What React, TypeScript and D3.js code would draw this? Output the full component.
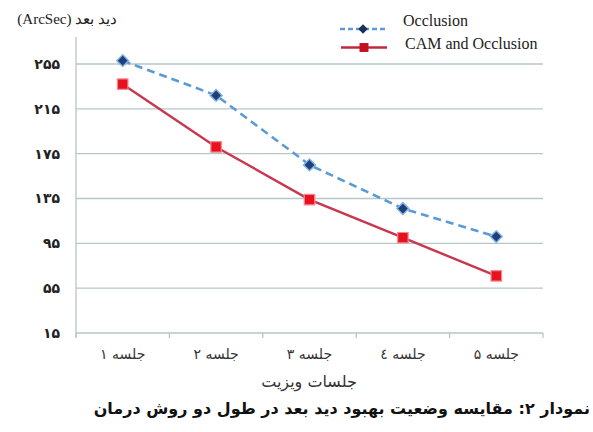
import React, { useRef, useEffect } from "react";
import * as d3 from "d3";

const categories = ["جلسه ۱", "جلسه ۲", "جلسه ۳", "جلسه ٤", "جلسه ۵"];
const occlusion = [258, 227, 165, 126, 101];
const camOcclusion = [237, 181, 134, 100, 66];
const yTicks = [15, 55, 95, 135, 175, 215, 255];
const persianDigits = "۰۱۲۳۴۵۶۷۸۹";
const toPersian = (n: number) => String(n).replace(/\d/g, (d) => persianDigits[+d]);

const W = 593;
const H = 432;
const left = 76;
const right = 543;
const top = 37;
const bottom = 333;

const serif = "Liberation Serif, DejaVu Serif, serif";
const faSans = "DejaVu Sans, sans-serif";

const App: React.FC = () => {
  const svgRef = useRef<SVGSVGElement>(null);

  useEffect(() => {
    if (!svgRef.current) return;
    const svg = d3.select(svgRef.current);
    svg.selectAll("*").remove();

    const x = d3.scaleBand<string>().domain(categories).range([left, right]);
    const y = d3.scaleLinear().domain([15, 255]).range([bottom, 64]);
    const gridColor = "#b7c6c6";

    svg.append("rect").attr("width", W).attr("height", H).attr("fill", "#fff");

    // gridlines
    svg
      .append("g")
      .selectAll("line")
      .data(yTicks)
      .join("line")
      .attr("x1", left)
      .attr("x2", right)
      .attr("y1", (d) => y(d))
      .attr("y2", (d) => y(d))
      .attr("stroke", gridColor)
      .attr("stroke-width", 1.3);

    // y axis line
    svg
      .append("line")
      .attr("x1", left)
      .attr("x2", left)
      .attr("y1", top)
      .attr("y2", bottom + 4)
      .attr("stroke", gridColor)
      .attr("stroke-width", 1.3);

    // x axis ticks
    const tickXs = categories.map((c) => x(c)!).concat([right]);
    svg
      .append("g")
      .selectAll("line")
      .data(tickXs)
      .join("line")
      .attr("x1", (d) => d)
      .attr("x2", (d) => d)
      .attr("y1", bottom)
      .attr("y2", bottom + 5)
      .attr("stroke", gridColor)
      .attr("stroke-width", 1.3);

    // y tick labels
    svg
      .append("g")
      .selectAll("text")
      .data(yTicks)
      .join("text")
      .attr("x", 60)
      .attr("y", (d) => y(d))
      .attr("dy", "0.35em")
      .attr("text-anchor", "end")
      .style("font-family", faSans)
      .attr("font-weight", "bold")
      .attr("font-size", 14)
      .attr("fill", "#222")
      .text((d) => toPersian(d));

    // x tick labels
    svg
      .append("g")
      .selectAll("text")
      .data(categories)
      .join("text")
      .attr("x", (d) => x(d)! + x.bandwidth() / 2)
      .attr("y", 359)
      .attr("text-anchor", "middle")
      .style("font-family", faSans)
      .attr("font-size", 14)
      .attr("fill", "#333")
      .text((d) => d);

    // axis titles
    svg
      .append("text")
      .attr("x", 309)
      .attr("y", 387)
      .attr("text-anchor", "middle")
      .style("font-family", faSans)
      .attr("font-size", 16)
      .attr("fill", "#333")
      .text("جلسات ویزیت");

    svg
      .append("text")
      .attr("x", 117)
      .attr("y", 24)
      .attr("direction", "rtl")
      .attr("text-anchor", "start")
      .style("font-family", serif)
      .attr("font-size", 15)
      .attr("fill", "#222")
      .text("دید بعد (ArcSec)");

    // caption
    svg
      .append("text")
      .attr("x", 590)
      .attr("y", 414)
      .attr("direction", "rtl")
      .attr("text-anchor", "start")
      .style("font-family", faSans)
      .attr("font-weight", "bold")
      .attr("font-size", 16)
      .attr("fill", "#111")
      .text("نمودار ۲: مقایسه وضعیت بهبود دید بعد در طول دو روش درمان");

    const cx = (i: number) => x(categories[i])! + x.bandwidth() / 2;
    const line = d3
      .line<number>()
      .x((_, i) => cx(i))
      .y((d) => y(d));

    const blue = "#5b9bd5";
    const navy = "#1f3f78";
    const crimson = "#c8374f";
    const red = "#e8121e";

    svg
      .append("path")
      .datum(occlusion)
      .attr("fill", "none")
      .attr("stroke", blue)
      .attr("stroke-width", 2.6)
      .attr("stroke-dasharray", "8,5")
      .attr("d", line);

    svg
      .append("path")
      .datum(camOcclusion)
      .attr("fill", "none")
      .attr("stroke", crimson)
      .attr("stroke-width", 2.4)
      .attr("d", line);

    const diamond = d3.symbol().type(d3.symbolSquare).size(70)();
    const square = d3.symbol().type(d3.symbolSquare).size(110)();

    svg
      .append("g")
      .selectAll("path")
      .data(occlusion)
      .join("path")
      .attr("d", diamond)
      .attr("transform", (d, i) => `translate(${cx(i)},${y(d)}) rotate(45)`)
      .attr("fill", navy)
      .attr("stroke", "#7fb2e5")
      .attr("stroke-width", 1.5);

    svg
      .append("g")
      .selectAll("path")
      .data(camOcclusion)
      .join("path")
      .attr("d", square)
      .attr("transform", (d, i) => `translate(${cx(i)},${y(d)})`)
      .attr("fill", red)
      .attr("stroke", "#f28a92")
      .attr("stroke-width", 1.2);

    // legend
    const lg = svg.append("g");
    lg.append("line")
      .attr("x1", 340)
      .attr("x2", 387)
      .attr("y1", 29)
      .attr("y2", 29)
      .attr("stroke", blue)
      .attr("stroke-width", 2.6)
      .attr("stroke-dasharray", "5,3");
    lg.append("path")
      .attr("d", d3.symbol().type(d3.symbolSquare).size(45)())
      .attr("transform", "translate(363,29) rotate(45)")
      .attr("fill", "#1a2f5a");
    lg.append("text")
      .attr("x", 403)
      .attr("y", 26)
      .style("font-family", serif)
      .attr("font-size", 16)
      .attr("fill", "#222")
      .text("Occlusion");

    lg.append("line")
      .attr("x1", 341)
      .attr("x2", 387)
      .attr("y1", 47.5)
      .attr("y2", 47.5)
      .attr("stroke", "#c0283f")
      .attr("stroke-width", 2.6);
    lg.append("path")
      .attr("d", d3.symbol().type(d3.symbolSquare).size(80)())
      .attr("transform", "translate(364,47.5)")
      .attr("fill", "#c4101e");
    lg.append("text")
      .attr("x", 405)
      .attr("y", 49)
      .style("font-family", serif)
      .attr("font-size", 16)
      .attr("fill", "#222")
      .text("CAM and Occlusion");
  }, []);

  return (
    <div style={{ position: "absolute", left: 0, top: 0 }}>
      <svg ref={svgRef} width={W} height={H} style={{ display: "block" }} />
    </div>
  );
};

export default App;
